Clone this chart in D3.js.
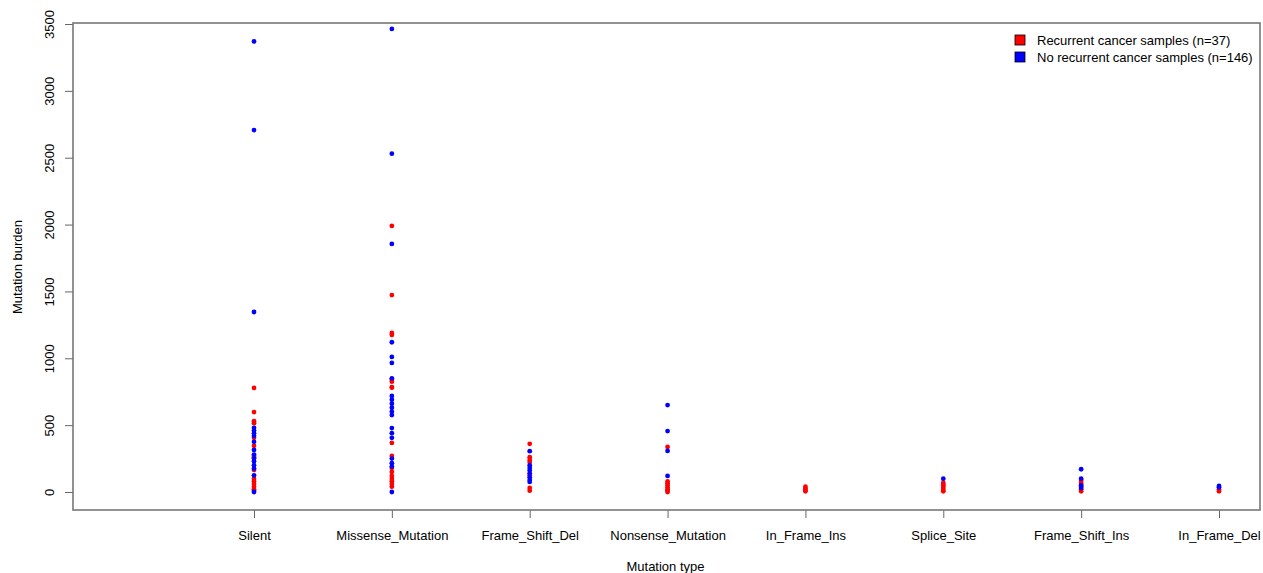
<!DOCTYPE html>
<html>
<head>
<meta charset="utf-8">
<script src="https://cdn.jsdelivr.net/npm/d3@7"></script>
<style>
  body { margin: 0; background: #fff; }
  svg { display: block; font-family: "Liberation Sans", Arial, sans-serif; }
</style>
</head>
<body>
<svg id="chart" width="1263" height="573"></svg>
<script>
// mutation types on the x axis
const categories = ["Silent", "Missense_Mutation", "Frame_Shift_Del", "Nonsense_Mutation",
  "In_Frame_Ins", "Splice_Site", "Frame_Shift_Ins", "In_Frame_Del"];

// mutation burden per sample, one list per mutation type (same order as categories)
const recurrentValues = [
  [778, 598, 530, 515, 405, 345, 270, 260, 165, 100, 80, 60, 40, 20, 10],
  [1990, 1473, 1190, 1175, 840, 825, 785, 780, 367, 270, 180, 150, 120, 100, 80, 60, 40],
  [360, 260, 240, 225, 125, 30, 10],
  [337, 80, 65, 50, 35, 20, 10, 0],
  [40, 25, 15, 5],
  [70, 55, 45, 30, 15, 5],
  [90, 75, 60, 40, 20, 5],
  [20, 5]
];
const noRecurrentValues = [
  [3370, 2707, 1346, 480, 460, 440, 420, 375, 315, 280, 250, 230, 200, 175, 125, 0],
  [3463, 2530, 1855, 1120, 1010, 965, 850, 718, 690, 660, 630, 600, 575, 478, 440, 405, 250, 215, 190, 0],
  [305, 200, 180, 160, 140, 110, 90, 75],
  [650, 456, 307, 120],
  [],
  [100],
  [170, 100, 50, 30],
  [45, 35]
];

const yTicks = [0, 500, 1000, 1500, 2000, 2500, 3000, 3500];
const legendLabels = ["Recurrent cancer samples (n=37)", "No recurrent cancer samples (n=146)"];
const groupColors = ["#ff0000", "#0000ff"];

const svg = d3.select("#chart");
const box = { left: 73, top: 23, right: 1260, bottom: 510 };

const x = d3.scalePoint()
  .domain(categories)
  .range([254, 1219]);

const y = d3.scaleLinear()
  .domain([0, 3500])
  .range([492, 24]);

// flatten to points
const points = [];
recurrentValues.forEach((vals, i) => vals.forEach(v => points.push({ cat: categories[i], value: v, group: 0 })));
noRecurrentValues.forEach((vals, i) => vals.forEach(v => points.push({ cat: categories[i], value: v, group: 1 })));

svg.append("g")
  .selectAll("circle")
  .data(points)
  .join("circle")
  .attr("cx", d => x(d.cat))
  .attr("cy", d => y(d.value))
  .attr("r", 2.4)
  .attr("fill", d => groupColors[d.group]);

// axes
const yAxis = svg.append("g")
  .attr("transform", `translate(${box.left},0)`)
  .call(d3.axisLeft(y).tickValues(yTicks).tickFormat(d3.format("d")).tickSize(8).tickSizeOuter(0));
yAxis.select(".domain").remove();
yAxis.selectAll("line").attr("stroke", "#666");
yAxis.selectAll("text")
  .attr("x", 0)
  .attr("dy", 0)
  .attr("text-anchor", "middle")
  .attr("transform", "translate(-19,0) rotate(-90)")
  .attr("font-size", 13)
  .attr("fill", "#000");

const xAxis = svg.append("g")
  .attr("transform", `translate(0,${box.bottom})`)
  .call(d3.axisBottom(x).tickSize(8).tickSizeOuter(0));
xAxis.select(".domain").remove();
xAxis.selectAll("line").attr("stroke", "#666");
xAxis.selectAll("text")
  .attr("y", 20.5)
  .attr("font-size", 13)
  .attr("fill", "#000");

// plot box
svg.append("rect")
  .attr("x", box.left)
  .attr("y", box.top)
  .attr("width", box.right - box.left)
  .attr("height", box.bottom - box.top)
  .attr("fill", "none")
  .attr("stroke", "#777")
  .attr("stroke-width", 1.6);

// axis titles
svg.append("text")
  .attr("x", (box.left + box.right) / 2 - 1)
  .attr("y", 571)
  .attr("text-anchor", "middle")
  .attr("font-size", 13)
  .text("Mutation type");

svg.append("text")
  .attr("transform", "translate(22,267) rotate(-90)")
  .attr("text-anchor", "middle")
  .attr("font-size", 13)
  .text("Mutation burden");

// legend
const legend = svg.append("g");
legendLabels.forEach((label, i) => {
  const cy = 40 + i * 17;
  legend.append("rect")
    .attr("x", 1015)
    .attr("y", cy - 5)
    .attr("width", 10)
    .attr("height", 10)
    .attr("fill", groupColors[i])
    .attr("stroke", "#000")
    .attr("stroke-width", 0.8);
  legend.append("text")
    .attr("x", 1037)
    .attr("y", cy + 4.5)
    .attr("font-size", 13)
    .text(label);
});
</script>
</body>
</html>
